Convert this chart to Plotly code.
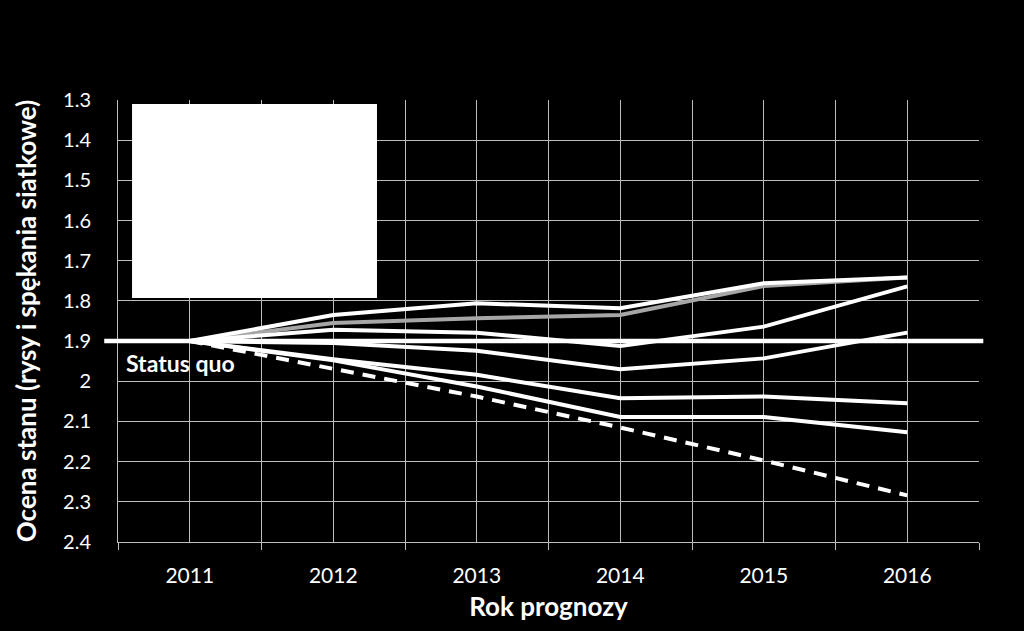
import plotly.graph_objects as go

# Data
years = [2011, 2012, 2013, 2014, 2015, 2016]
status_quo = 1.9

line_top = [1.9, 1.835, 1.806, 1.818, 1.756, 1.742]
line_gray = [1.9, 1.855, 1.843, 1.835, 1.763, 1.742]
line_mid_up = [1.9, 1.872, 1.879, 1.912, 1.864, 1.764]
line_mid_down = [1.9, 1.905, 1.924, 1.970, 1.943, 1.879]
line_low_a = [1.9, 1.945, 1.984, 2.042, 2.038, 2.055]
line_low_b = [1.9, 1.948, 2.013, 2.089, 2.089, 2.127]
line_dashed = [1.9, 1.970, 2.038, 2.115, 2.197, 2.284]

y_ticks = [1.3, 1.4, 1.5, 1.6, 1.7, 1.8, 1.9, 2.0, 2.1, 2.2, 2.3, 2.4]
y_labels = ['1.3', '1.4', '1.5', '1.6', '1.7', '1.8', '1.9', '2', '2.1', '2.2', '2.3', '2.4']

FONT = 'Lato'
GRID = '#bdbdbd'

fig = go.Figure()

fig.add_trace(go.Scatter(x=years, y=line_gray, mode='lines',
                         line=dict(color='#a6a6a6', width=4)))
for vals in [line_top, line_mid_up, line_mid_down, line_low_a, line_low_b]:
    fig.add_trace(go.Scatter(x=years, y=vals, mode='lines',
                             line=dict(color='white', width=4)))
fig.add_trace(go.Scatter(x=years, y=line_dashed, mode='lines',
                         line=dict(color='white', width=4, dash='13px,9px')))

# Status quo reference line, slightly wider than the plot area
fig.add_shape(type='line', xref='paper', yref='y', x0=-0.016, x1=1.005,
              y0=status_quo, y1=status_quo, line=dict(color='white', width=4.5))
fig.add_annotation(text='<b>Status quo</b>', xref='paper', yref='y',
                   x=0.007, y=status_quo, xanchor='left', yanchor='top', yshift=-6,
                   showarrow=False, font=dict(family=FONT, size=23, color='white'))

# Empty white legend box
fig.add_shape(type='rect', xref='paper', yref='paper', x0=0.0163, x1=0.3008,
              y0=0.552, y1=0.991, fillcolor='white', line=dict(width=0), layer='above')

boundaries = [y - 0.5 for y in years] + [years[-1] + 0.5]

fig.update_layout(
    width=1024, height=631,
    paper_bgcolor='black', plot_bgcolor='black',
    showlegend=False,
    margin=dict(l=118, r=45, t=100, b=89),
    font=dict(family=FONT, color='white'),
    xaxis=dict(
        range=[years[0] - 0.5, years[-1] + 0.5],
        tickvals=years, ticktext=[str(y) for y in years],
        showgrid=True, gridcolor=GRID, gridwidth=1,
        ticks='', ticklabelstandoff=15,
        tickfont=dict(family=FONT, size=21, color='white'),
        showline=True, linecolor=GRID, linewidth=1,
        zeroline=False,
        minor=dict(tickvals=boundaries, showgrid=True, gridcolor=GRID, gridwidth=1,
                   ticks='outside', ticklen=7, tickcolor=GRID),
        title=dict(text='<b>Rok prognozy</b>', font=dict(family=FONT, size=26, color='white'),
                   standoff=11),
    ),
    yaxis=dict(
        range=[2.4, 1.3],
        tickvals=y_ticks, ticktext=y_labels,
        showgrid=True, gridcolor=GRID, gridwidth=1,
        ticks='', ticklabelstandoff=22,
        tickfont=dict(family=FONT, size=20, color='white'),
        showline=True, linecolor=GRID, linewidth=1,
        zeroline=False,
        title=dict(text='<b>Ocena stanu (rysy i spękania siatkowe)</b>',
                   font=dict(family=FONT, size=26, color='white'), standoff=18),
    ),
)

fig.write_html("out.html", config={'displayModeBar': False},
               post_script="document.body.style.margin='0';")
